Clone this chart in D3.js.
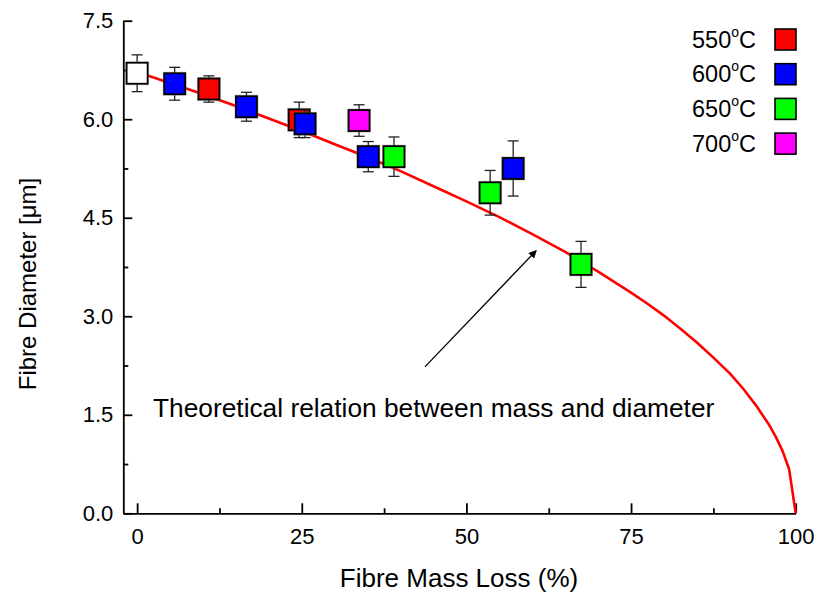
<!DOCTYPE html>
<html>
<head>
<meta charset="utf-8">
<script src="https://cdn.jsdelivr.net/npm/d3@7"></script>
<style>
  html, body { margin: 0; padding: 0; background: #fff; }
  svg { display: block; font-family: "Liberation Sans", Arial, sans-serif; }
</style>
</head>
<body>
<svg id="chart" width="821" height="599"></svg>
<script>
// Fibre mass loss (%) vs. fibre diameter (µm), with standard deviation
const untreatedLoss = [0];
const untreatedDiam = [6.70];
const untreatedErr  = [0.28];

const loss550 = [10.9, 24.6];
const diam550 = [6.46, 5.99];
const err550  = [0.20, 0.27];

const loss600 = [5.7, 16.6, 25.5, 35.1, 57.1];
const diam600 = [6.54, 6.19, 5.93, 5.43, 5.25];
const err600  = [0.25, 0.22, 0.21, 0.23, 0.42];

const loss650 = [39.0, 53.6, 67.4];
const diam650 = [5.43, 4.88, 3.79];
const err650  = [0.30, 0.34, 0.35];

const loss700 = [33.7];
const diam700 = [5.98];
const err700  = [0.24];

// Theoretical mass/diameter relation
const theoryLoss = [0, 5, 10, 15, 20, 25, 30, 35, 40, 45, 50, 55, 60, 65, 70, 72.5, 75, 77.5, 80, 82.5, 85, 87.5, 90, 92, 94, 96, 97, 98, 99, 100];
const theoryDiam = [6.72, 6.55, 6.38, 6.20, 6.01, 5.82, 5.62, 5.42, 5.21, 4.98, 4.75, 4.51, 4.25, 3.98, 3.68, 3.52, 3.36, 3.19, 3.01, 2.81, 2.60, 2.37, 2.13, 1.90, 1.64, 1.34, 1.16, 0.95, 0.67, 0];

const xMajorTicks = [0, 25, 50, 75, 100];
const xMinorTicks = [12.5, 37.5, 62.5, 87.5];
const yMajorTicks = [0, 1.5, 3.0, 4.5, 6.0, 7.5];
const yMinorTicks = [0.75, 2.25, 3.75, 5.25, 6.75];

const legendLabels = ["550", "600", "650", "700"];
const legendColors = ["#ff0000", "#0000ff", "#00ff00", "#ff00ff"];

const series = [
  { loss: untreatedLoss, diam: untreatedDiam, err: untreatedErr, color: "#ffffff" },
  { loss: loss550, diam: diam550, err: err550, color: legendColors[0] },
  { loss: loss600, diam: diam600, err: err600, color: legendColors[1] },
  { loss: loss650, diam: diam650, err: err650, color: legendColors[2] },
  { loss: loss700, diam: diam700, err: err700, color: legendColors[3] }
];

const svg = d3.select("#chart");
const x = d3.scaleLinear().domain([-2.1, 100]).range([123.3, 795.7]);
const y = d3.scaleLinear().domain([0, 7.5]).range([513.3, 20.7]);

const tickFont = 22;

// Axes (ticks pointing inward, open frame)
const gx = svg.append("g").attr("transform", `translate(0,${y(0)})`);
gx.call(d3.axisBottom(x).tickValues(xMajorTicks).tickSizeInner(-10).tickSizeOuter(0).tickPadding(15).tickFormat(d3.format("d")));
const gxm = svg.append("g").attr("transform", `translate(0,${y(0)})`);
gxm.call(d3.axisBottom(x).tickValues(xMinorTicks).tickSizeInner(-5).tickSizeOuter(0).tickFormat(""));
gxm.select(".domain").remove();

const gy = svg.append("g").attr("transform", `translate(${x(-2.1)},0)`);
gy.call(d3.axisLeft(y).tickValues(yMajorTicks).tickSizeInner(-9).tickSizeOuter(0).tickPadding(10).tickFormat(d3.format(".1f")));
const gym = svg.append("g").attr("transform", `translate(${x(-2.1)},0)`);
gym.call(d3.axisLeft(y).tickValues(yMinorTicks).tickSizeInner(-5).tickSizeOuter(0).tickFormat(""));
gym.select(".domain").remove();

svg.selectAll(".domain, .tick line").attr("stroke", "#000").attr("stroke-width", 1.8);
svg.selectAll(".tick text").attr("font-size", tickFont).attr("fill", "#000").attr("font-family", "Liberation Sans, Arial, sans-serif");

// Axis titles
svg.append("text")
  .attr("x", 459).attr("y", 587)
  .attr("text-anchor", "middle").attr("font-size", 26)
  .text("Fibre Mass Loss (%)");
svg.append("text")
  .attr("transform", `translate(36,${284}) rotate(-90)`)
  .attr("text-anchor", "middle").attr("font-size", 24)
  .text("Fibre Diameter [\u03bcm]");

// Theoretical curve
const line = d3.line().x(d => x(d[0])).y(d => y(d[1]));
svg.append("path")
  .datum(theoryLoss.map((m, i) => [m, theoryDiam[i]]))
  .attr("d", line)
  .attr("fill", "none").attr("stroke", "#ff0000").attr("stroke-width", 2.6)
  .attr("stroke-linejoin", "round");

// Annotation with arrow
const defs = svg.append("defs");
defs.append("marker")
  .attr("id", "arrowhead").attr("viewBox", "0 0 10 10")
  .attr("refX", 9).attr("refY", 5)
  .attr("markerWidth", 11).attr("markerHeight", 8)
  .attr("markerUnits", "userSpaceOnUse")
  .attr("orient", "auto")
  .append("path").attr("d", "M0,0 L10,5 L0,10 Z").attr("fill", "#000");
svg.append("line")
  .attr("x1", x(43.7)).attr("y1", y(2.23))
  .attr("x2", x(60.6)).attr("y2", y(4.0))
  .attr("stroke", "#000").attr("stroke-width", 1.3)
  .attr("marker-end", "url(#arrowhead)");
svg.append("text")
  .attr("x", 153).attr("y", 417)
  .attr("font-size", 26.3)
  .text("Theoretical relation between mass and diameter");

// Data points with error bars
const sq = 21, cap = 5.5;
series.forEach(s => {
  const pts = s.loss.map((m, i) => ({ m, d: s.diam[i], e: s.err[i] }));
  const g = svg.append("g");
  const eb = g.selectAll(".eb").data(pts).enter().append("g");
  eb.append("line")
    .attr("x1", p => x(p.m)).attr("x2", p => x(p.m))
    .attr("y1", p => y(p.d + p.e)).attr("y2", p => y(p.d - p.e))
    .attr("stroke", "#222").attr("stroke-width", 1.3);
  eb.append("line")
    .attr("x1", p => x(p.m) - cap).attr("x2", p => x(p.m) + cap)
    .attr("y1", p => y(p.d + p.e)).attr("y2", p => y(p.d + p.e))
    .attr("stroke", "#222").attr("stroke-width", 1.3);
  eb.append("line")
    .attr("x1", p => x(p.m) - cap).attr("x2", p => x(p.m) + cap)
    .attr("y1", p => y(p.d - p.e)).attr("y2", p => y(p.d - p.e))
    .attr("stroke", "#222").attr("stroke-width", 1.3);
  g.selectAll(".halo").data(pts).enter().append("rect")
    .attr("x", p => x(p.m) - sq / 2 - 1.5).attr("y", p => y(p.d) - sq / 2 - 1.5)
    .attr("width", sq + 3).attr("height", sq + 3)
    .attr("fill", "#888").attr("opacity", 0.45);
  g.selectAll(".pt").data(pts).enter().append("rect")
    .attr("x", p => x(p.m) - sq / 2).attr("y", p => y(p.d) - sq / 2)
    .attr("width", sq).attr("height", sq)
    .attr("fill", s.color).attr("stroke", "#000").attr("stroke-width", 1.8);
});

// Legend
const lg = svg.append("g");
legendLabels.forEach((lab, i) => {
  const cy = 39.5 + i * 34.7;
  const t = lg.append("text")
    .attr("x", 756).attr("y", cy + 8)
    .attr("text-anchor", "end").attr("font-size", 23.5);
  t.append("tspan").text(lab);
  t.append("tspan").attr("font-size", 14).attr("dy", -11).text("o");
  t.append("tspan").attr("dy", 11).text("C");
  lg.append("rect")
    .attr("x", 775).attr("y", cy - 10.5)
    .attr("width", 21).attr("height", 21)
    .attr("fill", legendColors[i]).attr("stroke", "#000").attr("stroke-width", 1.6);
});
</script>
</body>
</html>
